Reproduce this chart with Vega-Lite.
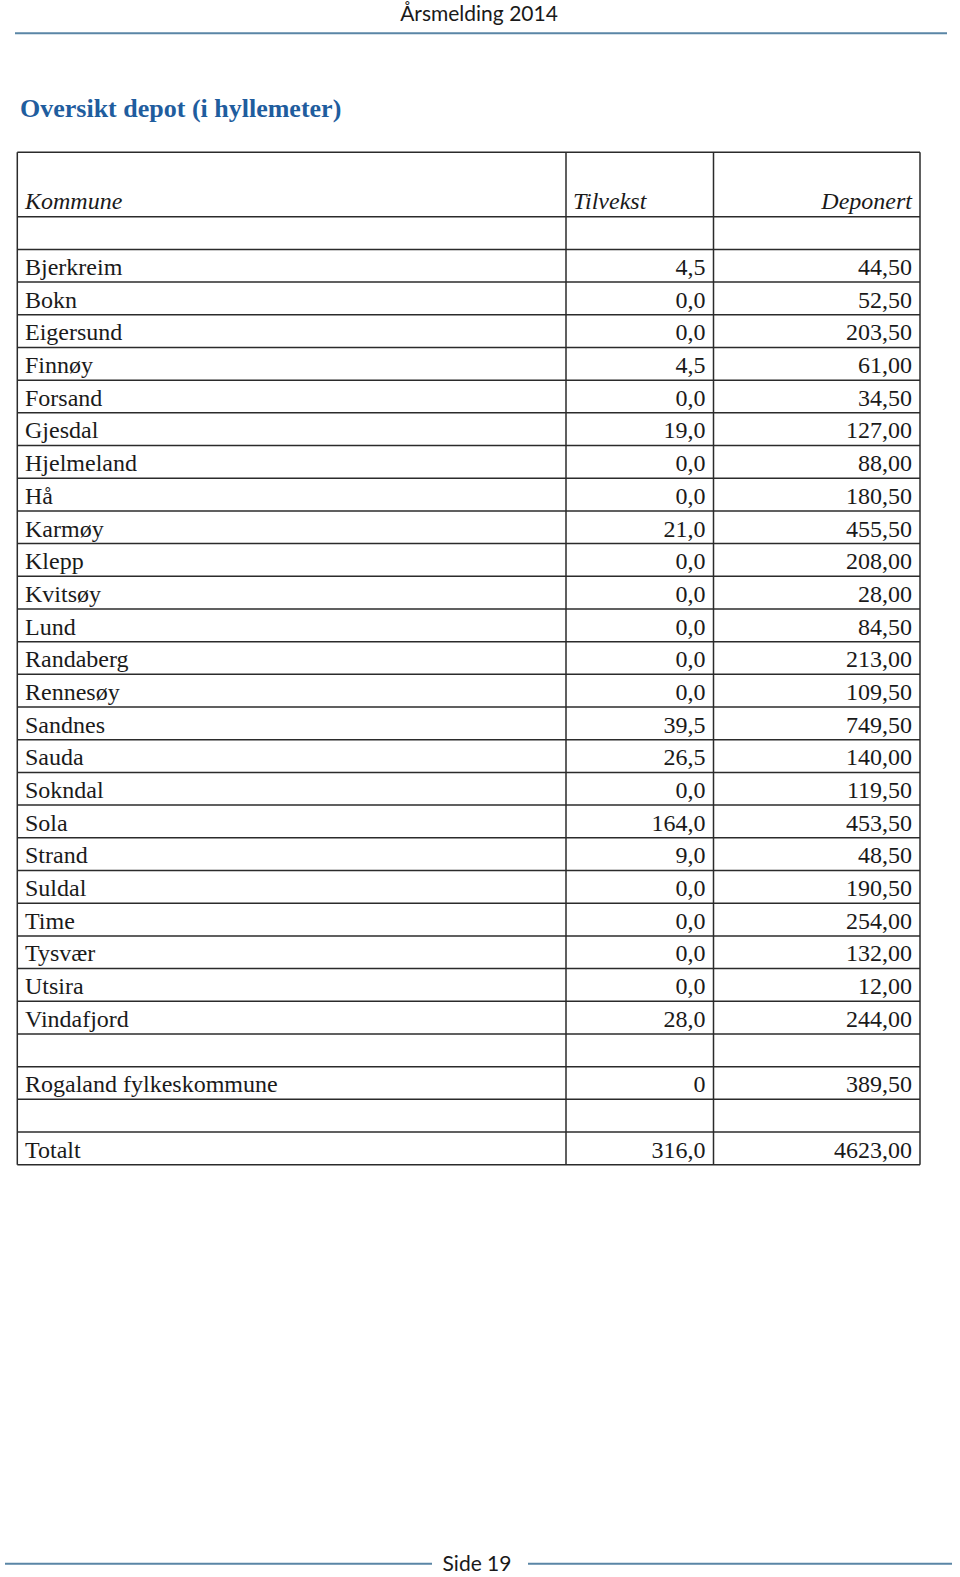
{
  "$schema": "https://vega.github.io/schema/vega-lite/v6.json",
  "width": 960,
  "height": 1577,
  "padding": 0,
  "autosize": {"type": "fit", "contains": "padding"},
  "background": "white",
  "config": {
    "view": {"stroke": null},
    "locale": {"number": {"decimal": ",", "thousands": " ", "grouping": [3], "currency": ["", " kr"]}}
  },
  "data": {
    "values": [
      {"rad": -1},
      {"rad": 0, "kommune": "Bjerkreim", "tilvekst": 4.5, "deponert": 44.5},
      {"rad": 1, "kommune": "Bokn", "tilvekst": 0, "deponert": 52.5},
      {"rad": 2, "kommune": "Eigersund", "tilvekst": 0, "deponert": 203.5},
      {"rad": 3, "kommune": "Finnøy", "tilvekst": 4.5, "deponert": 61},
      {"rad": 4, "kommune": "Forsand", "tilvekst": 0, "deponert": 34.5},
      {"rad": 5, "kommune": "Gjesdal", "tilvekst": 19, "deponert": 127},
      {"rad": 6, "kommune": "Hjelmeland", "tilvekst": 0, "deponert": 88},
      {"rad": 7, "kommune": "Hå", "tilvekst": 0, "deponert": 180.5},
      {"rad": 8, "kommune": "Karmøy", "tilvekst": 21, "deponert": 455.5},
      {"rad": 9, "kommune": "Klepp", "tilvekst": 0, "deponert": 208},
      {"rad": 10, "kommune": "Kvitsøy", "tilvekst": 0, "deponert": 28},
      {"rad": 11, "kommune": "Lund", "tilvekst": 0, "deponert": 84.5},
      {"rad": 12, "kommune": "Randaberg", "tilvekst": 0, "deponert": 213},
      {"rad": 13, "kommune": "Rennesøy", "tilvekst": 0, "deponert": 109.5},
      {"rad": 14, "kommune": "Sandnes", "tilvekst": 39.5, "deponert": 749.5},
      {"rad": 15, "kommune": "Sauda", "tilvekst": 26.5, "deponert": 140},
      {"rad": 16, "kommune": "Sokndal", "tilvekst": 0, "deponert": 119.5},
      {"rad": 17, "kommune": "Sola", "tilvekst": 164, "deponert": 453.5},
      {"rad": 18, "kommune": "Strand", "tilvekst": 9, "deponert": 48.5},
      {"rad": 19, "kommune": "Suldal", "tilvekst": 0, "deponert": 190.5},
      {"rad": 20, "kommune": "Time", "tilvekst": 0, "deponert": 254},
      {"rad": 21, "kommune": "Tysvær", "tilvekst": 0, "deponert": 132},
      {"rad": 22, "kommune": "Utsira", "tilvekst": 0, "deponert": 12},
      {"rad": 23, "kommune": "Vindafjord", "tilvekst": 28, "deponert": 244},
      {"rad": 24},
      {"rad": 25, "kommune": "Rogaland fylkeskommune", "tilvekst": 0, "deponert": 389.5},
      {"rad": 26},
      {"rad": 27, "kommune": "Totalt", "tilvekst": 316, "deponert": 4623}
    ]
  },
  "layer": [
    {
      "data": {"values": [{}]},
      "mark": {"type": "text", "align": "center", "baseline": "alphabetic", "font": "Lato", "fontSize": 21, "color": "#1a1a1a"},
      "encoding": {
        "text": {"value": "Årsmelding 2014"},
        "x": {"datum": 479, "type": "quantitative", "scale": {"domain": [0, 960], "nice": false, "zero": false}, "axis": null},
        "y": {"datum": -6.99, "type": "quantitative", "scale": {"domain": [-7.629, 40.612], "reverse": true, "nice": false, "zero": false}, "axis": null}
      }
    },
    {
      "data": {"values": [{}]},
      "mark": {"type": "rule", "stroke": "#5a86a6", "strokeWidth": 2},
      "encoding": {
        "x": {"datum": 15, "type": "quantitative", "scale": {"domain": [0, 960], "nice": false, "zero": false}, "axis": null},
        "x2": {"datum": 947},
        "y": {"datum": -6.61, "type": "quantitative", "scale": {"domain": [-7.629, 40.612], "reverse": true, "nice": false, "zero": false}, "axis": null}
      }
    },
    {
      "data": {"values": [{}]},
      "mark": {"type": "text", "align": "left", "baseline": "alphabetic", "font": "Liberation Serif", "fontWeight": "bold", "fontSize": 26, "color": "#1f5d9e"},
      "encoding": {
        "text": {"value": "Oversikt depot (i hyllemeter)"},
        "x": {"datum": 20, "type": "quantitative", "scale": {"domain": [0, 960], "nice": false, "zero": false}, "axis": null},
        "y": {"datum": -4.05, "type": "quantitative", "scale": {"domain": [-7.629, 40.612], "reverse": true, "nice": false, "zero": false}, "axis": null}
      }
    },
    {
      "mark": {"type": "rule", "stroke": "#2b2b2b", "strokeWidth": 1.5},
      "encoding": {
        "x": {"datum": 17.3, "type": "quantitative", "scale": {"domain": [0, 960], "nice": false, "zero": false}, "axis": null},
        "x2": {"datum": 920},
        "y": {"field": "rad", "type": "quantitative", "scale": {"domain": [-7.629, 40.612], "reverse": true, "nice": false, "zero": false}, "axis": null}
      }
    },
    {
      "data": {"values": [{}]},
      "mark": {"type": "rule", "stroke": "#2b2b2b", "strokeWidth": 1.5},
      "encoding": {
        "x": {"datum": 17.3, "type": "quantitative", "scale": {"domain": [0, 960], "nice": false, "zero": false}, "axis": null},
        "x2": {"datum": 920},
        "y": {"datum": -2.97, "type": "quantitative", "scale": {"domain": [-7.629, 40.612], "reverse": true, "nice": false, "zero": false}, "axis": null}
      }
    },
    {
      "data": {"values": [{}]},
      "mark": {"type": "rule", "stroke": "#2b2b2b", "strokeWidth": 1.5},
      "encoding": {
        "x": {"datum": 17.3, "type": "quantitative", "scale": {"domain": [0, 960], "nice": false, "zero": false}, "axis": null},
        "x2": {"datum": 920},
        "y": {"datum": 28, "type": "quantitative", "scale": {"domain": [-7.629, 40.612], "reverse": true, "nice": false, "zero": false}, "axis": null}
      }
    },
    {
      "data": {"values": [{}]},
      "mark": {"type": "rule", "stroke": "#2b2b2b", "strokeWidth": 1.5},
      "encoding": {
        "x": {"datum": 17.3, "type": "quantitative", "scale": {"domain": [0, 960], "nice": false, "zero": false}, "axis": null},
        "y": {"datum": -2.97, "type": "quantitative", "scale": {"domain": [-7.629, 40.612], "reverse": true, "nice": false, "zero": false}, "axis": null},
        "y2": {"datum": 28}
      }
    },
    {
      "data": {"values": [{}]},
      "mark": {"type": "rule", "stroke": "#2b2b2b", "strokeWidth": 1.5},
      "encoding": {
        "x": {"datum": 566, "type": "quantitative", "scale": {"domain": [0, 960], "nice": false, "zero": false}, "axis": null},
        "y": {"datum": -2.97, "type": "quantitative", "scale": {"domain": [-7.629, 40.612], "reverse": true, "nice": false, "zero": false}, "axis": null},
        "y2": {"datum": 28}
      }
    },
    {
      "data": {"values": [{}]},
      "mark": {"type": "rule", "stroke": "#2b2b2b", "strokeWidth": 1.5},
      "encoding": {
        "x": {"datum": 713.5, "type": "quantitative", "scale": {"domain": [0, 960], "nice": false, "zero": false}, "axis": null},
        "y": {"datum": -2.97, "type": "quantitative", "scale": {"domain": [-7.629, 40.612], "reverse": true, "nice": false, "zero": false}, "axis": null},
        "y2": {"datum": 28}
      }
    },
    {
      "data": {"values": [{}]},
      "mark": {"type": "rule", "stroke": "#2b2b2b", "strokeWidth": 1.5},
      "encoding": {
        "x": {"datum": 920, "type": "quantitative", "scale": {"domain": [0, 960], "nice": false, "zero": false}, "axis": null},
        "y": {"datum": -2.97, "type": "quantitative", "scale": {"domain": [-7.629, 40.612], "reverse": true, "nice": false, "zero": false}, "axis": null},
        "y2": {"datum": 28}
      }
    },
    {
      "data": {"values": [{}]},
      "mark": {"type": "text", "align": "left", "baseline": "alphabetic", "font": "Liberation Serif", "fontStyle": "italic", "fontSize": 24, "color": "#1a1a1a", "dy": -7.4},
      "encoding": {
        "text": {"value": "Kommune"},
        "x": {"datum": 25, "type": "quantitative", "scale": {"domain": [0, 960], "nice": false, "zero": false}, "axis": null},
        "y": {"datum": -1, "type": "quantitative", "scale": {"domain": [-7.629, 40.612], "reverse": true, "nice": false, "zero": false}, "axis": null}
      }
    },
    {
      "data": {"values": [{}]},
      "mark": {"type": "text", "align": "left", "baseline": "alphabetic", "font": "Liberation Serif", "fontStyle": "italic", "fontSize": 24, "color": "#1a1a1a", "dy": -7.4},
      "encoding": {
        "text": {"value": "Tilvekst"},
        "x": {"datum": 573, "type": "quantitative", "scale": {"domain": [0, 960], "nice": false, "zero": false}, "axis": null},
        "y": {"datum": -1, "type": "quantitative", "scale": {"domain": [-7.629, 40.612], "reverse": true, "nice": false, "zero": false}, "axis": null}
      }
    },
    {
      "data": {"values": [{}]},
      "mark": {"type": "text", "align": "right", "baseline": "alphabetic", "font": "Liberation Serif", "fontStyle": "italic", "fontSize": 24, "color": "#1a1a1a", "dy": -7.4},
      "encoding": {
        "text": {"value": "Deponert"},
        "x": {"datum": 912, "type": "quantitative", "scale": {"domain": [0, 960], "nice": false, "zero": false}, "axis": null},
        "y": {"datum": -1, "type": "quantitative", "scale": {"domain": [-7.629, 40.612], "reverse": true, "nice": false, "zero": false}, "axis": null}
      }
    },
    {
      "transform": [{"filter": "isValid(datum.kommune)"}],
      "mark": {"type": "text", "align": "left", "baseline": "alphabetic", "font": "Liberation Serif", "fontSize": 24, "color": "#1a1a1a", "dy": 25.6},
      "encoding": {
        "text": {"field": "kommune", "type": "nominal"},
        "x": {"datum": 25, "type": "quantitative", "scale": {"domain": [0, 960], "nice": false, "zero": false}, "axis": null},
        "y": {"field": "rad", "type": "quantitative", "scale": {"domain": [-7.629, 40.612], "reverse": true, "nice": false, "zero": false}, "axis": null}
      }
    },
    {
      "transform": [{"filter": "isValid(datum.tilvekst) && datum.kommune !== 'Rogaland fylkeskommune'"}],
      "mark": {"type": "text", "align": "right", "baseline": "alphabetic", "font": "Liberation Serif", "fontSize": 24, "color": "#1a1a1a", "dy": 25.6},
      "encoding": {
        "text": {"field": "tilvekst", "type": "quantitative", "format": ".1f"},
        "x": {"datum": 705.5, "type": "quantitative", "scale": {"domain": [0, 960], "nice": false, "zero": false}, "axis": null},
        "y": {"field": "rad", "type": "quantitative", "scale": {"domain": [-7.629, 40.612], "reverse": true, "nice": false, "zero": false}, "axis": null}
      }
    },
    {
      "transform": [{"filter": "datum.kommune === 'Rogaland fylkeskommune'"}],
      "mark": {"type": "text", "align": "right", "baseline": "alphabetic", "font": "Liberation Serif", "fontSize": 24, "color": "#1a1a1a", "dy": 25.6},
      "encoding": {
        "text": {"field": "tilvekst", "type": "quantitative", "format": "d"},
        "x": {"datum": 705.5, "type": "quantitative", "scale": {"domain": [0, 960], "nice": false, "zero": false}, "axis": null},
        "y": {"field": "rad", "type": "quantitative", "scale": {"domain": [-7.629, 40.612], "reverse": true, "nice": false, "zero": false}, "axis": null}
      }
    },
    {
      "transform": [{"filter": "isValid(datum.deponert)"}],
      "mark": {"type": "text", "align": "right", "baseline": "alphabetic", "font": "Liberation Serif", "fontSize": 24, "color": "#1a1a1a", "dy": 25.6},
      "encoding": {
        "text": {"field": "deponert", "type": "quantitative", "format": ".2f"},
        "x": {"datum": 912, "type": "quantitative", "scale": {"domain": [0, 960], "nice": false, "zero": false}, "axis": null},
        "y": {"field": "rad", "type": "quantitative", "scale": {"domain": [-7.629, 40.612], "reverse": true, "nice": false, "zero": false}, "axis": null}
      }
    },
    {
      "data": {"values": [{}]},
      "mark": {"type": "rule", "stroke": "#5a86a6", "strokeWidth": 2},
      "encoding": {
        "x": {"datum": 5, "type": "quantitative", "scale": {"domain": [0, 960], "nice": false, "zero": false}, "axis": null},
        "x2": {"datum": 432},
        "y": {"datum": 40.21, "type": "quantitative", "scale": {"domain": [-7.629, 40.612], "reverse": true, "nice": false, "zero": false}, "axis": null}
      }
    },
    {
      "data": {"values": [{}]},
      "mark": {"type": "rule", "stroke": "#5a86a6", "strokeWidth": 2},
      "encoding": {
        "x": {"datum": 528, "type": "quantitative", "scale": {"domain": [0, 960], "nice": false, "zero": false}, "axis": null},
        "x2": {"datum": 952},
        "y": {"datum": 40.21, "type": "quantitative", "scale": {"domain": [-7.629, 40.612], "reverse": true, "nice": false, "zero": false}, "axis": null}
      }
    },
    {
      "data": {"values": [{}]},
      "mark": {"type": "text", "align": "center", "baseline": "alphabetic", "font": "Lato", "fontSize": 21, "color": "#1a1a1a"},
      "encoding": {
        "text": {"value": "Side 19"},
        "x": {"datum": 477, "type": "quantitative", "scale": {"domain": [0, 960], "nice": false, "zero": false}, "axis": null},
        "y": {"datum": 40.43, "type": "quantitative", "scale": {"domain": [-7.629, 40.612], "reverse": true, "nice": false, "zero": false}, "axis": null}
      }
    }
  ]
}
